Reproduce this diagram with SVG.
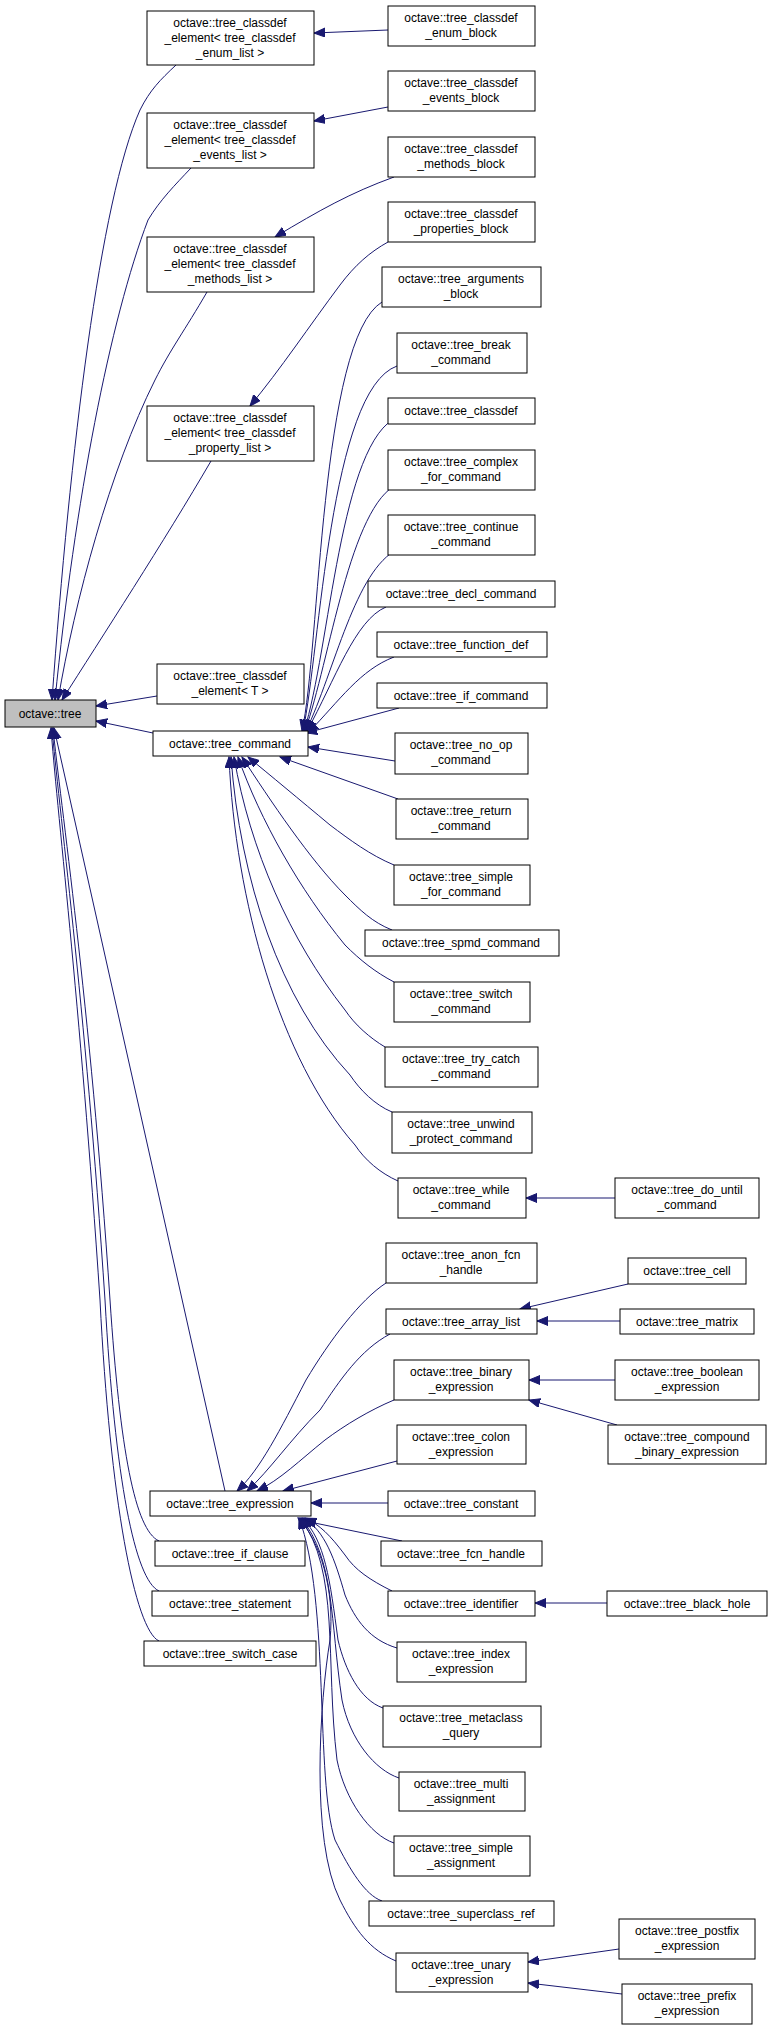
<svg xmlns="http://www.w3.org/2000/svg" width="768" height="2036" viewBox="0 0 768 2036">
<style>
.n rect{fill:#fff;stroke:#000;stroke-width:1}
.n text{font-family:"Liberation Sans",Arial,sans-serif;font-size:12px;text-anchor:middle;fill:#000}
#e path{fill:none;stroke:#191970;stroke-width:1;marker-end:url(#a)}
</style>
<defs><marker id="a" markerUnits="userSpaceOnUse" markerWidth="12" markerHeight="10" refX="11" refY="4.5" orient="auto"><path d="M0,0 L11,4.5 L0,9 z" fill="#191970" stroke="#191970"/></marker></defs>
<g id="e">
<path d="M176,65 C160,80 150,90 140,110 C100,200 70,450 52,700"/>
<path d="M191,168 C175,185 160,200 148,220 C110,320 75,500 55,700"/>
<path d="M207,292 C185,330 170,350 155,380 C110,470 75,600 58,700"/>
<path d="M211,461 C165,540 100,640 62,700"/>
<path d="M157,696 L96,706"/>
<path d="M153,733 L96,721"/>
<path d="M225,1491 L54,728"/>
<path d="M159,1541 C135,1530 120,1450 110,1300 C90,1000 60,800 53,728"/>
<path d="M159,1591 C135,1580 115,1480 105,1300 C85,1000 58,800 52,728"/>
<path d="M159,1641 C135,1630 110,1500 100,1300 C80,1000 56,800 51,728"/>
<path d="M388,30 L314,33"/>
<path d="M388,107 L314,121"/>
<path d="M394,177 C350,193 320,210 275,237"/>
<path d="M388,242 C370,252 355,265 340,285 C310,325 280,370 250,406"/>
<path d="M382,302 C320,340 320,650 302,731"/>
<path d="M397,366 C330,390 320,650 303,731"/>
<path d="M398,417 C340,440 330,650 304,731"/>
<path d="M398,484 C350,505 330,660 305,731"/>
<path d="M398,549 C355,570 335,670 306,731"/>
<path d="M386,607 C355,620 335,680 307,731"/>
<path d="M394,657 C360,670 340,700 308,733"/>
<path d="M399,708 L306,733"/>
<path d="M395,761 L308,747"/>
<path d="M398,799 L280,757"/>
<path d="M394,865 C370,855 350,840 330,825 C300,800 270,775 248,757"/>
<path d="M392,930 C372,922 360,910 345,895 C310,860 270,800 242,757"/>
<path d="M394,982 C375,972 360,960 345,945 C300,890 260,820 238,757"/>
<path d="M385,1047 C370,1038 355,1025 345,1010 C290,940 250,850 234,757"/>
<path d="M392,1112 C375,1105 360,1090 350,1075 C280,1000 240,880 231,757"/>
<path d="M398,1181 C380,1173 365,1160 355,1145 C280,1060 235,900 229,757"/>
<path d="M615,1198 L526,1198"/>
<path d="M386,1283 C360,1300 330,1340 306,1380 C280,1430 260,1470 237,1491"/>
<path d="M390,1334 C360,1350 340,1380 320,1410 C290,1440 270,1470 247,1491"/>
<path d="M394,1400 C370,1410 345,1425 325,1440 C300,1460 280,1480 257,1491"/>
<path d="M397,1461 L283,1491"/>
<path d="M388,1503 L311,1503"/>
<path d="M402,1541 L305,1521"/>
<path d="M392,1591 C370,1580 355,1570 345,1555 C330,1535 320,1525 305,1518"/>
<path d="M397,1648 C370,1640 355,1620 345,1595 C335,1560 325,1530 303,1518"/>
<path d="M383,1708 C360,1700 345,1670 338,1640 C330,1580 325,1540 302,1518"/>
<path d="M399,1778 C375,1770 350,1740 342,1700 C330,1620 335,1560 301,1518"/>
<path d="M394,1843 C370,1835 345,1800 337,1760 C325,1660 340,1570 300,1518"/>
<path d="M382,1901 C365,1895 350,1870 335,1840 C315,1780 330,1600 299,1518"/>
<path d="M396,1961 C370,1950 355,1930 340,1900 C310,1840 320,1700 330,1640 C335,1590 320,1540 298,1518"/>
<path d="M628,1284 L520,1309"/>
<path d="M620,1321 L537,1321"/>
<path d="M615,1380 L529,1380"/>
<path d="M617,1425 L529,1400"/>
<path d="M607,1603 L535,1603"/>
<path d="M619,1949 L528,1962"/>
<path d="M622,1994 L528,1983"/>
</g>
<g id="tree" class="n"><rect x="5" y="700" width="91" height="27" style="fill:#bfbfbf"/><text x="50" y="718">octave::tree</text></g>
<g id="enum_list" class="n"><rect x="147" y="11" width="167" height="54"/><text x="230" y="27">octave::tree_classdef</text><text x="230" y="42">_element&lt; tree_classdef</text><text x="230" y="57">_enum_list &gt;</text></g>
<g id="events_list" class="n"><rect x="147" y="113" width="167" height="55"/><text x="230" y="129">octave::tree_classdef</text><text x="230" y="144">_element&lt; tree_classdef</text><text x="230" y="159">_events_list &gt;</text></g>
<g id="methods_list" class="n"><rect x="147" y="237" width="167" height="55"/><text x="230" y="253">octave::tree_classdef</text><text x="230" y="268">_element&lt; tree_classdef</text><text x="230" y="283">_methods_list &gt;</text></g>
<g id="property_list" class="n"><rect x="147" y="406" width="167" height="55"/><text x="230" y="422">octave::tree_classdef</text><text x="230" y="437">_element&lt; tree_classdef</text><text x="230" y="452">_property_list &gt;</text></g>
<g id="element_T" class="n"><rect x="157" y="664" width="147" height="40"/><text x="230" y="680">octave::tree_classdef</text><text x="230" y="695">_element&lt; T &gt;</text></g>
<g id="command" class="n"><rect x="153" y="731" width="155" height="25"/><text x="230" y="748">octave::tree_command</text></g>
<g id="expression" class="n"><rect x="150" y="1491" width="161" height="25"/><text x="230" y="1508">octave::tree_expression</text></g>
<g id="if_clause" class="n"><rect x="155" y="1541" width="150" height="25"/><text x="230" y="1558">octave::tree_if_clause</text></g>
<g id="statement" class="n"><rect x="152" y="1591" width="156" height="25"/><text x="230" y="1608">octave::tree_statement</text></g>
<g id="switch_case" class="n"><rect x="144" y="1641" width="172" height="25"/><text x="230" y="1658">octave::tree_switch_case</text></g>
<g id="enum_block" class="n"><rect x="388" y="6" width="147" height="40"/><text x="461" y="22">octave::tree_classdef</text><text x="461" y="37">_enum_block</text></g>
<g id="events_block" class="n"><rect x="388" y="71" width="147" height="40"/><text x="461" y="87">octave::tree_classdef</text><text x="461" y="102">_events_block</text></g>
<g id="methods_block" class="n"><rect x="388" y="137" width="147" height="40"/><text x="461" y="153">octave::tree_classdef</text><text x="461" y="168">_methods_block</text></g>
<g id="properties_block" class="n"><rect x="388" y="202" width="147" height="40"/><text x="461" y="218">octave::tree_classdef</text><text x="461" y="233">_properties_block</text></g>
<g id="arguments_block" class="n"><rect x="382" y="267" width="159" height="40"/><text x="461" y="283">octave::tree_arguments</text><text x="461" y="298">_block</text></g>
<g id="break_command" class="n"><rect x="397" y="333" width="130" height="40"/><text x="461" y="349">octave::tree_break</text><text x="461" y="364">_command</text></g>
<g id="classdef" class="n"><rect x="388" y="398" width="147" height="26"/><text x="461" y="415">octave::tree_classdef</text></g>
<g id="complex_for" class="n"><rect x="388" y="450" width="147" height="40"/><text x="461" y="466">octave::tree_complex</text><text x="461" y="481">_for_command</text></g>
<g id="continue" class="n"><rect x="388" y="515" width="147" height="40"/><text x="461" y="531">octave::tree_continue</text><text x="461" y="546">_command</text></g>
<g id="decl" class="n"><rect x="368" y="581" width="187" height="26"/><text x="461" y="598">octave::tree_decl_command</text></g>
<g id="function_def" class="n"><rect x="377" y="632" width="170" height="25"/><text x="461" y="649">octave::tree_function_def</text></g>
<g id="if_command" class="n"><rect x="377" y="683" width="170" height="25"/><text x="461" y="700">octave::tree_if_command</text></g>
<g id="no_op" class="n"><rect x="395" y="733" width="133" height="41"/><text x="461" y="749">octave::tree_no_op</text><text x="461" y="764">_command</text></g>
<g id="return" class="n"><rect x="396" y="799" width="132" height="40"/><text x="461" y="815">octave::tree_return</text><text x="461" y="830">_command</text></g>
<g id="simple_for" class="n"><rect x="394" y="865" width="136" height="40"/><text x="461" y="881">octave::tree_simple</text><text x="461" y="896">_for_command</text></g>
<g id="spmd" class="n"><rect x="365" y="930" width="194" height="26"/><text x="461" y="947">octave::tree_spmd_command</text></g>
<g id="switch_command" class="n"><rect x="394" y="982" width="136" height="40"/><text x="461" y="998">octave::tree_switch</text><text x="461" y="1013">_command</text></g>
<g id="try_catch" class="n"><rect x="385" y="1047" width="153" height="40"/><text x="461" y="1063">octave::tree_try_catch</text><text x="461" y="1078">_command</text></g>
<g id="unwind" class="n"><rect x="392" y="1112" width="140" height="41"/><text x="461" y="1128">octave::tree_unwind</text><text x="461" y="1143">_protect_command</text></g>
<g id="while" class="n"><rect x="398" y="1178" width="128" height="40"/><text x="461" y="1194">octave::tree_while</text><text x="461" y="1209">_command</text></g>
<g id="do_until" class="n"><rect x="615" y="1178" width="144" height="40"/><text x="687" y="1194">octave::tree_do_until</text><text x="687" y="1209">_command</text></g>
<g id="anon_fcn" class="n"><rect x="386" y="1243" width="151" height="40"/><text x="461" y="1259">octave::tree_anon_fcn</text><text x="461" y="1274">_handle</text></g>
<g id="cell" class="n"><rect x="628" y="1258" width="118" height="26"/><text x="687" y="1275">octave::tree_cell</text></g>
<g id="array_list" class="n"><rect x="386" y="1309" width="151" height="25"/><text x="461" y="1326">octave::tree_array_list</text></g>
<g id="matrix" class="n"><rect x="620" y="1309" width="134" height="25"/><text x="687" y="1326">octave::tree_matrix</text></g>
<g id="binary" class="n"><rect x="394" y="1360" width="135" height="40"/><text x="461" y="1376">octave::tree_binary</text><text x="461" y="1391">_expression</text></g>
<g id="boolean" class="n"><rect x="615" y="1360" width="144" height="40"/><text x="687" y="1376">octave::tree_boolean</text><text x="687" y="1391">_expression</text></g>
<g id="compound" class="n"><rect x="608" y="1425" width="158" height="39"/><text x="687" y="1441">octave::tree_compound</text><text x="687" y="1456">_binary_expression</text></g>
<g id="colon" class="n"><rect x="397" y="1425" width="129" height="39"/><text x="461" y="1441">octave::tree_colon</text><text x="461" y="1456">_expression</text></g>
<g id="constant" class="n"><rect x="388" y="1491" width="147" height="25"/><text x="461" y="1508">octave::tree_constant</text></g>
<g id="fcn_handle" class="n"><rect x="381" y="1541" width="161" height="25"/><text x="461" y="1558">octave::tree_fcn_handle</text></g>
<g id="identifier" class="n"><rect x="388" y="1591" width="147" height="25"/><text x="461" y="1608">octave::tree_identifier</text></g>
<g id="black_hole" class="n"><rect x="607" y="1591" width="160" height="25"/><text x="687" y="1608">octave::tree_black_hole</text></g>
<g id="index" class="n"><rect x="397" y="1642" width="129" height="40"/><text x="461" y="1658">octave::tree_index</text><text x="461" y="1673">_expression</text></g>
<g id="metaclass" class="n"><rect x="383" y="1706" width="158" height="41"/><text x="461" y="1722">octave::tree_metaclass</text><text x="461" y="1737">_query</text></g>
<g id="multi" class="n"><rect x="399" y="1772" width="126" height="39"/><text x="461" y="1788">octave::tree_multi</text><text x="461" y="1803">_assignment</text></g>
<g id="simple_assign" class="n"><rect x="394" y="1836" width="136" height="40"/><text x="461" y="1852">octave::tree_simple</text><text x="461" y="1867">_assignment</text></g>
<g id="superclass" class="n"><rect x="369" y="1901" width="185" height="25"/><text x="461" y="1918">octave::tree_superclass_ref</text></g>
<g id="unary" class="n"><rect x="396" y="1953" width="132" height="39"/><text x="461" y="1969">octave::tree_unary</text><text x="461" y="1984">_expression</text></g>
<g id="postfix" class="n"><rect x="619" y="1919" width="136" height="40"/><text x="687" y="1935">octave::tree_postfix</text><text x="687" y="1950">_expression</text></g>
<g id="prefix" class="n"><rect x="622" y="1984" width="130" height="40"/><text x="687" y="2000">octave::tree_prefix</text><text x="687" y="2015">_expression</text></g>
</svg>
